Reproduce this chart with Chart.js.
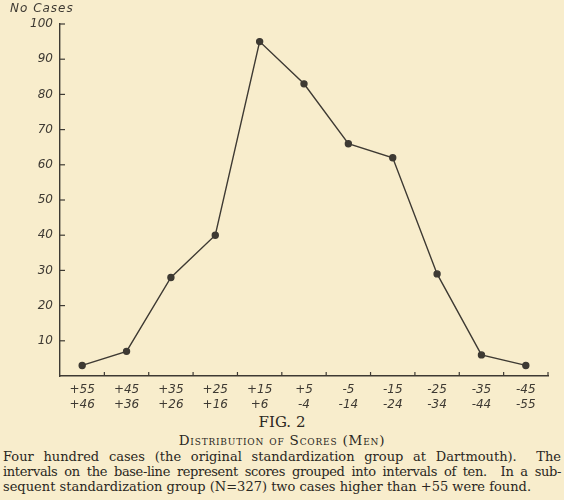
<!DOCTYPE html>
<html>
<head>
<meta charset="utf-8">
<script src="https://cdn.jsdelivr.net/npm/chart.js@4"></script>
<style>
  html, body { margin: 0; padding: 0; background: #f8edcc; }
  body { width: 564px; height: 500px; position: relative; overflow: hidden; }
  #wrap { position: absolute; left: 0; top: 0; width: 564px; height: 412px; }
  #ylab { position: absolute; left: 10px; top: 1px; font: italic 12px "DejaVu Sans", sans-serif; color: #3e3a33; letter-spacing: 1px; }
  .cap { position: absolute; left: 0; width: 564px; font-family: "DejaVu Serif", serif; color: #2a2722; }
  #fig { top: 413px; text-align: center; font-size: 15px; }
  #sub { top: 432px; text-align: center; font-size: 13.5px; font-variant: small-caps; letter-spacing: 0.8px; }
  #para { top: 449px; left: 3px; width: 558px; font-size: 13px; line-height: 15px; }
  #para div { text-align: justify; text-align-last: justify; white-space: nowrap; }
  #para div.tight { letter-spacing: -0.35px; word-spacing: -1.5px; }
  #para div.last { text-align-last: left; }
</style>
</head>
<body>
<div id="wrap"><canvas id="chart"></canvas></div>
<div id="ylab">No Cases</div>
<div class="cap" id="fig">FIG. 2</div>
<div class="cap" id="sub">Distribution of Scores (Men)</div>
<div class="cap" id="para">
  <div>Four hundred cases (the original standardization group at Dartmouth).&nbsp; The</div>
  <div class="tight">intervals on the base-line represent scores grouped into intervals of ten.&nbsp; In a sub-</div>
  <div class="last">sequent standardization group (N=327) two cases higher than +55 were found.</div>
</div>
<script>
// DATA - score intervals (upper / lower bound) and number of cases
const upperBounds = ['+55', '+45', '+35', '+25', '+15', '+5', '-5', '-15', '-25', '-35', '-45'];
const lowerBounds = ['+46', '+36', '+26', '+16', '+6', '-4', '-14', '-24', '-34', '-44', '-55'];
const cases = [3, 7, 28, 40, 95, 83, 66, 62, 29, 6, 3];
const yTicks = [10, 20, 30, 40, 50, 60, 70, 80, 90, 100];

const ink = '#3e3a33';
const handFont = { family: '"DejaVu Sans", sans-serif', size: 12, style: 'italic' };

// inward tick marks like the hand drawn axes
const inwardTicks = {
    id: 'inwardTicks',
    afterDraw(chart) {
        const ctx = chart.ctx;
        const x = chart.scales.x, y = chart.scales.y;
        ctx.save();
        ctx.strokeStyle = ink;
        ctx.lineWidth = 1.2;
        yTicks.forEach(v => {
            const py = y.getPixelForValue(v);
            ctx.beginPath();
            ctx.moveTo(x.left, py);
            ctx.lineTo(x.left + 5, py);
            ctx.stroke();
        });
        for (let i = 1; i <= upperBounds.length; i++) {
            const px = x.getPixelForValue(i - 0.5);
            ctx.beginPath();
            ctx.moveTo(px, y.bottom);
            ctx.lineTo(px, y.bottom - 4);
            ctx.stroke();
        }
        ctx.restore();
    }
};

new Chart(document.getElementById('chart'), {
    type: 'line',
    data: {
        labels: upperBounds.map((u, i) => [u, lowerBounds[i]]),
        datasets: [{
            data: cases,
            borderColor: ink,
            borderWidth: 1.4,
            backgroundColor: ink,
            pointRadius: 3,
            pointHoverRadius: 3,
            tension: 0,
            fill: false
        }]
    },
    options: {
        responsive: true,
        maintainAspectRatio: false,
        animation: false,
        layout: { padding: { top: 24, right: 16, left: 0, bottom: 0 } },
        plugins: { legend: { display: false }, tooltip: { enabled: false } },
        scales: {
            x: {
                offset: true,
                grid: { display: false, drawTicks: false },
                border: { display: true, color: ink, width: 1.4 },
                ticks: { color: ink, font: { ...handFont, lineHeight: 1.25 }, padding: 6, maxRotation: 0, autoSkip: false },
                afterFit: s => { s.height = 36; }
            },
            y: {
                min: 0,
                max: 100,
                afterBuildTicks: s => { s.ticks = yTicks.map(v => ({ value: v })); },
                grid: { display: false, drawTicks: false },
                border: { display: true, color: ink, width: 1.4 },
                ticks: { color: ink, font: handFont, padding: 7 },
                afterFit: s => { s.width = 60; }
            }
        }
    },
    plugins: [inwardTicks]
});
</script>
</body>
</html>
